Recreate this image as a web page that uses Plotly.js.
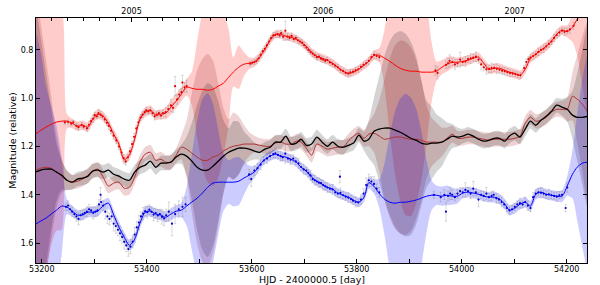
<!DOCTYPE html>
<html><head><meta charset="utf-8">
<script src="https://cdn.plot.ly/plotly-3.0.1.min.js"></script>
<style>html,body{margin:0;padding:0;background:#fff}#chart{width:600px;height:285px}</style>
</head><body><div id="chart"></div>
<script>
// Model grid (MJD) and model curves
const DAYS = [53188,53198,53208,53218,53228,53238,53248,53258,53268,53278,
53288,53297,53307,53317,53327,53337,53347,53357,53367,53377,
53387,53397,53407,53417,53427,53436,53446,53456,53466,53476,
53486,53496,53506,53516,53526,53536,53546,53556,53565,53575,
53585,53595,53605,53615,53625,53635,53645,53655,53665,53675,
53685,53694,53704,53714,53724,53734,53744,53754,53764,53774,
53784,53794,53804,53814,53823,53833,53843,53853,53863,53873,
53883,53893,53903,53913,53923,53933,53943,53952,53962,53972,
53982,53992,54002,54012,54022,54032,54042,54052,54062,54072,
54082,54091,54101,54111,54121,54131,54141,54151,54161,54171,
54181,54191,54201,54211,54220,54230,54240];

const RED_Y = [1.149,1.133,1.120,1.108,1.099,1.095,1.095,1.104,1.116,1.112,
1.120,1.087,1.066,1.075,1.104,1.149,1.190,1.255,1.235,1.170,
1.087,1.058,1.050,1.070,1.066,1.062,1.037,1.012,0.983,0.954,
0.959,0.963,0.963,0.967,0.963,0.950,0.938,0.913,0.892,0.872,
0.859,0.855,0.851,0.830,0.797,0.760,0.735,0.735,0.743,0.747,
0.756,0.768,0.785,0.810,0.826,0.834,0.843,0.855,0.872,0.888,
0.897,0.892,0.880,0.863,0.847,0.822,0.822,0.834,0.847,0.863,
0.876,0.884,0.888,0.888,0.892,0.892,0.892,0.888,0.872,0.859,
0.851,0.851,0.847,0.843,0.834,0.830,0.855,0.880,0.876,0.876,
0.884,0.892,0.897,0.905,0.880,0.834,0.818,0.801,0.785,0.764,
0.735,0.718,0.723,0.706,0.673,0.648,0.630];
const RED_SD = [0.8,0.7,0.6,0.5,0.45,0.45,0.03,0.02,0.02,0.02,
0.02,0.02,0.02,0.02,0.02,0.02,0.02,0.02,0.02,0.02,
0.02,0.02,0.02,0.02,0.02,0.025,0.03,0.03,0.03,0.035,
0.07,0.2,0.32,0.38,0.4,0.38,0.3,0.2,0.06,0.09,
0.05,0.025,0.02,0.018,0.018,0.018,0.018,0.018,0.018,0.018,
0.018,0.018,0.018,0.018,0.018,0.018,0.018,0.018,0.018,0.018,
0.018,0.018,0.018,0.018,0.018,0.02,0.03,0.12,0.3,0.45,
0.55,0.6,0.6,0.55,0.45,0.3,0.12,0.04,0.03,0.03,
0.025,0.02,0.02,0.02,0.02,0.02,0.02,0.02,0.02,0.02,
0.02,0.02,0.02,0.02,0.02,0.02,0.02,0.02,0.02,0.02,
0.02,0.02,0.025,0.06,0.15,0.3,0.45];

const BLUE_Y = [1.522,1.509,1.497,1.480,1.464,1.447,1.451,1.468,1.484,1.484,
1.472,1.472,1.468,1.445,1.435,1.484,1.534,1.576,1.609,1.584,
1.518,1.472,1.468,1.480,1.484,1.493,1.480,1.468,1.464,1.447,
1.430,1.414,1.393,1.369,1.352,1.348,1.348,1.348,1.348,1.344,
1.331,1.319,1.306,1.277,1.253,1.240,1.232,1.240,1.244,1.253,
1.265,1.286,1.302,1.327,1.344,1.356,1.369,1.377,1.393,1.402,
1.410,1.422,1.431,1.410,1.350,1.365,1.395,1.418,1.431,1.435,
1.431,1.431,1.427,1.422,1.414,1.406,1.402,1.402,1.406,1.402,
1.406,1.406,1.393,1.389,1.393,1.398,1.406,1.410,1.410,1.418,
1.439,1.464,1.456,1.439,1.431,1.447,1.398,1.389,1.398,1.402,
1.406,1.406,1.364,1.315,1.286,1.269,1.265];
const BLUE_SD = [0.8,0.7,0.55,0.45,0.35,0.2,0.03,0.022,0.022,0.022,
0.022,0.022,0.022,0.022,0.022,0.022,0.022,0.022,0.022,0.022,
0.022,0.022,0.022,0.022,0.022,0.022,0.025,0.025,0.03,0.08,
0.2,0.32,0.39,0.39,0.33,0.22,0.12,0.09,0.1,0.1,
0.07,0.04,0.025,0.02,0.02,0.02,0.02,0.02,0.02,0.02,
0.02,0.02,0.02,0.02,0.02,0.02,0.02,0.02,0.02,0.02,
0.02,0.02,0.02,0.02,0.025,0.03,0.06,0.15,0.28,0.38,
0.43,0.45,0.43,0.38,0.28,0.15,0.06,0.04,0.04,0.04,
0.035,0.03,0.022,0.022,0.022,0.022,0.022,0.022,0.022,0.022,
0.022,0.022,0.022,0.022,0.022,0.022,0.022,0.022,0.022,0.022,
0.022,0.025,0.04,0.1,0.22,0.35,0.45];

const BLACK_Y = [1.306,1.298,1.294,1.294,1.306,1.319,1.340,1.348,1.335,1.331,
1.323,1.302,1.298,1.306,1.298,1.315,1.323,1.335,1.340,1.306,
1.286,1.277,1.261,1.286,1.269,1.269,1.265,1.244,1.232,1.240,
1.261,1.286,1.298,1.298,1.282,1.261,1.240,1.224,1.215,1.207,
1.207,1.211,1.219,1.224,1.211,1.203,1.182,1.182,1.157,1.190,
1.186,1.170,1.195,1.190,1.161,1.182,1.199,1.182,1.199,1.203,
1.195,1.186,1.153,1.178,1.170,1.137,1.128,1.124,1.124,1.132,
1.141,1.153,1.166,1.174,1.186,1.190,1.186,1.186,1.182,1.170,
1.157,1.161,1.157,1.149,1.157,1.170,1.178,1.174,1.166,1.166,
1.178,1.157,1.145,1.161,1.128,1.095,1.112,1.091,1.075,1.054,
1.029,1.037,1.046,1.070,1.079,1.079,1.075];
const BLACK_SD = [0.7,0.55,0.4,0.25,0.12,0.06,0.04,0.03,0.03,0.03,
0.03,0.03,0.03,0.03,0.03,0.03,0.03,0.03,0.03,0.03,
0.03,0.03,0.03,0.03,0.03,0.03,0.03,0.03,0.04,0.08,
0.16,0.26,0.33,0.36,0.33,0.25,0.15,0.1,0.12,0.11,
0.07,0.05,0.035,0.03,0.03,0.03,0.03,0.03,0.03,0.03,
0.03,0.03,0.03,0.03,0.03,0.03,0.03,0.03,0.03,0.03,
0.03,0.03,0.03,0.04,0.08,0.14,0.22,0.3,0.36,0.4,
0.42,0.42,0.4,0.35,0.26,0.18,0.15,0.12,0.1,0.07,
0.05,0.04,0.03,0.03,0.03,0.03,0.03,0.03,0.03,0.03,
0.03,0.03,0.03,0.03,0.03,0.03,0.03,0.03,0.03,0.03,
0.03,0.035,0.05,0.1,0.18,0.28,0.38];

const DRED_Y = [1.298,1.290,1.286,1.290,1.306,1.323,1.340,1.348,1.344,1.335,
1.319,1.302,1.294,1.327,1.364,1.352,1.348,1.373,1.369,1.327,
1.265,1.232,1.224,1.257,1.253,1.265,1.265,1.236,1.203,1.211,
1.228,1.244,1.257,1.257,1.244,1.236,1.219,1.207,1.199,1.195,
1.190,1.190,1.190,1.195,1.199,1.199,1.186,1.182,1.190,1.190,
1.178,1.182,1.207,1.236,1.190,1.199,1.211,1.207,1.203,1.203,
1.178,1.157,1.145,1.166,1.149,1.145,1.157,1.170,1.166,1.161,
1.161,1.166,1.170,1.170,1.174,1.182,1.182,1.182,1.182,1.166,
1.149,1.166,1.166,1.161,1.161,1.166,1.170,1.174,1.170,1.170,
1.170,1.170,1.166,1.157,1.104,1.079,1.095,1.091,1.079,1.058,
1.046,1.046,1.046,0.992,1.004,1.025,1.058];
const DRED_SD = [0.75,0.6,0.45,0.3,0.15,0.07,0.04,0.03,0.03,0.03,
0.03,0.03,0.03,0.03,0.03,0.03,0.03,0.03,0.03,0.03,
0.03,0.03,0.03,0.03,0.03,0.03,0.03,0.03,0.05,0.12,
0.25,0.36,0.42,0.44,0.4,0.3,0.18,0.12,0.14,0.12,
0.08,0.05,0.035,0.03,0.03,0.03,0.03,0.03,0.03,0.03,
0.03,0.03,0.03,0.03,0.03,0.03,0.03,0.03,0.03,0.03,
0.03,0.03,0.03,0.035,0.05,0.08,0.15,0.25,0.33,0.38,
0.4,0.4,0.38,0.33,0.25,0.15,0.1,0.08,0.06,0.045,
0.035,0.03,0.03,0.03,0.03,0.03,0.03,0.03,0.03,0.03,
0.03,0.03,0.03,0.03,0.03,0.03,0.03,0.03,0.03,0.03,
0.03,0.035,0.05,0.1,0.18,0.28,0.38];

// Observed red light curve: time, magnitude, error
const RED_T = [53244,53250,53256,53260,53266,53270,53276,53280,53286,53290,53294,53298,53301,53305,53308,53312,53316,53320,53324,53328,53332,53337,53342,53347,53352,53356,53360,53364,53368,53372,53376,53380,53384,53388,53392,53396,53399,53403,53407,53411,53415,53419,53423,53427,53431,53436,53441,53446,53450,53454,53458,53462,53466,53468,53472,53476,
53597,53601,53605,53609,53613,53617,53621,53625,53629,53633,53637,53641,53645,53649,53653,53656,53660,53664,53668,53672,53676,53680,53684,53688,53692,53696,53700,53704,53708,53712,53716,53720,53724,53728,53732,53736,53740,53744,53749,53754,53759,53764,53769,53774,53779,53784,53788,53793,53798,53803,53808,53813,53818,53823,53828,53833,53838,53843,
53950,53954,53970,53974,53977,53982,53987,53992,53997,54002,54007,54012,54017,54022,54027,54032,54037,54042,54047,54052,54057,54062,54067,54072,54077,54082,54087,54092,54097,54102,54107,54112,54119,54123,54127,54131,54136,54141,54146,54151,54156,54161,54166,54171,54176,54181,54186,54191,54196,54201,54206,54213];
const RED_M = [1.100,1.098,1.105,1.100,1.115,1.120,1.110,1.118,1.125,1.110,1.095,1.085,1.070,1.075,1.062,1.068,1.075,1.088,1.102,1.115,1.135,1.155,1.175,1.200,1.225,1.248,1.262,1.245,1.220,1.190,1.160,1.125,1.100,1.080,1.068,1.058,1.050,1.055,1.050,1.062,1.075,1.068,1.062,1.072,1.062,1.058,1.045,1.030,1.040,0.950,1.005,0.985,0.975,0.935,0.955,0.950,
0.857,0.853,0.850,0.845,0.835,0.820,0.805,0.795,0.780,0.765,0.750,0.740,0.738,0.735,0.740,0.730,0.745,0.720,0.745,0.750,0.742,0.755,0.750,0.760,0.765,0.770,0.780,0.790,0.800,0.808,0.815,0.822,0.830,0.828,0.836,0.840,0.845,0.842,0.852,0.858,0.865,0.872,0.882,0.888,0.895,0.898,0.893,0.890,0.884,0.880,0.870,0.862,0.855,0.845,0.830,0.820,0.825,0.830,
0.885,0.895,0.862,0.855,0.845,0.850,0.860,0.855,0.840,0.850,0.848,0.838,0.835,0.832,0.828,0.840,0.860,0.872,0.880,0.878,0.875,0.874,0.878,0.882,0.886,0.888,0.892,0.895,0.898,0.900,0.903,0.905,0.875,0.850,0.838,0.832,0.825,0.818,0.808,0.800,0.795,0.785,0.775,0.765,0.750,0.738,0.728,0.720,0.725,0.722,0.715,0.700];
const RED_E = [0.008,0.008,0.01,0.008,0.01,0.012,0.01,0.01,0.012,0.015,0.012,0.015,0.012,0.01,0.015,0.012,0.01,0.012,0.012,0.015,0.012,0.015,0.012,0.015,0.012,0.015,0.015,0.012,0.015,0.012,0.015,0.012,0.015,0.012,0.012,0.01,0.012,0.01,0.012,0.01,0.015,0.012,0.012,0.015,0.012,0.02,0.015,0.025,0.02,0.04,0.02,0.02,0.015,0.03,0.02,0.025,
0.01,0.008,0.01,0.01,0.012,0.012,0.01,0.012,0.01,0.012,0.01,0.012,0.01,0.012,0.01,0.012,0.015,0.04,0.012,0.01,0.012,0.012,0.01,0.012,0.01,0.012,0.012,0.01,0.012,0.01,0.012,0.01,0.012,0.01,0.012,0.012,0.01,0.012,0.012,0.012,0.01,0.012,0.012,0.01,0.012,0.012,0.012,0.01,0.012,0.012,0.01,0.012,0.012,0.015,0.012,0.015,0.012,0.015,
0.02,0.025,0.015,0.02,0.025,0.015,0.02,0.015,0.03,0.015,0.02,0.015,0.02,0.015,0.02,0.015,0.02,0.015,0.02,0.015,0.02,0.015,0.02,0.015,0.015,0.015,0.015,0.015,0.012,0.012,0.012,0.012,0.012,0.012,0.01,0.012,0.012,0.012,0.015,0.012,0.015,0.012,0.015,0.012,0.015,0.012,0.015,0.012,0.015,0.012,0.015,0.015];

// Observed blue light curve
const BLUE_T = [53246,53250,53254,53258,53262,53266,53270,53274,53278,53282,53286,53290,53294,53298,53302,53306,53309,53312,53313,53317,53321,53325,53329,53333,53337,53341,53345,53349,53353,53357,53361,53365,53369,53373,53377,53381,53385,53389,53393,53397,53401,53405,53409,53413,53417,53421,53425,53429,53433,53437,53442,53448,53454,53461,53468,53474,
53595,53599,53605,53611,53617,53623,53629,53635,53641,53645,53650,53655,53659,53664,53669,53674,53679,53684,53689,53694,53699,53704,53708,53712,53716,53720,53724,53728,53732,53736,53740,53744,53749,53754,53759,53764,53768,53769,53774,53779,53784,53789,53793,53798,53803,53808,53813,53818,53823,53828,53833,53838,53843,
53947,53960,53967,53970,53974,53978,53982,53987,53992,53997,54002,54007,54012,54017,54022,54027,54032,54037,54042,54047,54052,54057,54061,54066,54071,54076,54081,54086,54091,54096,54101,54106,54111,54116,54121,54126,54131,54136,54141,54146,54151,54156,54161,54166,54171,54176,54181,54186,54191,54198,54201];
const BLUE_M = [1.450,1.445,1.460,1.470,1.480,1.490,1.500,1.485,1.480,1.475,1.470,1.460,1.465,1.475,1.470,1.465,1.440,1.400,1.430,1.445,1.470,1.490,1.500,1.490,1.520,1.530,1.545,1.560,1.575,1.595,1.610,1.625,1.615,1.595,1.565,1.535,1.515,1.490,1.478,1.468,1.472,1.462,1.470,1.482,1.476,1.486,1.480,1.492,1.498,1.485,1.470,1.520,1.480,1.460,1.450,1.440,
1.315,1.335,1.300,1.290,1.275,1.258,1.250,1.240,1.232,1.228,1.235,1.240,1.245,1.230,1.250,1.255,1.250,1.262,1.270,1.285,1.295,1.300,1.310,1.320,1.335,1.340,1.345,1.350,1.352,1.360,1.365,1.370,1.375,1.378,1.390,1.395,1.325,1.392,1.402,1.408,1.412,1.418,1.425,1.430,1.432,1.420,1.395,1.360,1.340,1.345,1.355,1.375,1.390,
1.400,1.410,1.400,1.470,1.405,1.395,1.400,1.410,1.395,1.385,1.390,1.380,1.385,1.395,1.375,1.390,1.420,1.400,1.405,1.395,1.410,1.405,1.400,1.415,1.420,1.430,1.440,1.455,1.465,1.460,1.450,1.440,1.435,1.440,1.430,1.445,1.455,1.410,1.395,1.390,1.392,1.395,1.400,1.398,1.402,1.405,1.408,1.402,1.400,1.455,1.370];
const BLUE_E = [0.015,0.02,0.015,0.02,0.015,0.02,0.025,0.02,0.02,0.015,0.02,0.02,0.015,0.025,0.02,0.02,0.02,0.03,0.025,0.02,0.03,0.03,0.025,0.02,0.03,0.03,0.025,0.03,0.025,0.03,0.025,0.03,0.03,0.025,0.03,0.025,0.03,0.02,0.025,0.02,0.025,0.02,0.02,0.025,0.02,0.025,0.02,0.03,0.03,0.025,0.04,0.05,0.04,0.035,0.04,0.03,
0.02,0.03,0.02,0.02,0.02,0.015,0.02,0.015,0.015,0.02,0.015,0.02,0.015,0.04,0.015,0.02,0.015,0.015,0.02,0.015,0.02,0.015,0.015,0.02,0.015,0.02,0.015,0.02,0.015,0.02,0.015,0.02,0.015,0.02,0.015,0.015,0.025,0.02,0.015,0.015,0.02,0.015,0.015,0.02,0.015,0.02,0.02,0.03,0.025,0.02,0.03,0.02,0.02,
0.015,0.02,0.02,0.04,0.02,0.025,0.02,0.015,0.02,0.015,0.02,0.03,0.015,0.02,0.03,0.015,0.03,0.015,0.02,0.025,0.015,0.02,0.015,0.02,0.015,0.02,0.015,0.015,0.015,0.015,0.015,0.015,0.02,0.015,0.02,0.02,0.015,0.02,0.015,0.015,0.02,0.015,0.015,0.02,0.015,0.015,0.02,0.015,0.015,0.015,0.02];

// Top axis: calendar years (MJD of 1 January) and month starts
const YEAR_MJD = [53371, 53736, 54101];
const YEAR_LABELS = ['2005', '2006', '2007'];
const MONTH_MJD = [53218,53249,53279,53310,53340,53371,53402,53430,53461,53491,53522,53552,53583,53614,53644,53675,53705,
53736,53767,53795,53826,53856,53887,53917,53948,53979,54009,54040,54070,54101,54132,54160,54191,54221];

const BOTTOM_TICKS = [53200,53400,53600,53800,54000,54200];
const Y_TICKS = [0.8,1.0,1.2,1.4,1.6];

function band(center, sd, color) {
  const up = center.map((v,i)=>v - sd[i]);
  const lo = center.map((v,i)=>v + sd[i]);
  return {
    x: DAYS.concat(DAYS.slice().reverse()),
    y: up.concat(lo.slice().reverse()),
    type: 'scatter', mode: 'lines', fill: 'toself', fillcolor: color,
    line: {width: 0, shape: 'spline', smoothing: 0.7}, hoverinfo: 'skip', showlegend: false
  };
}
function curve(y, color, w) {
  return {x: DAYS, y: y, type: 'scatter', mode: 'lines',
    line: {color: color, width: w, shape: 'spline', smoothing: 0.8}, hoverinfo: 'skip', showlegend: false};
}
function obs(t, m, e, color) {
  return {x: t, y: m, type: 'scatter', mode: 'markers',
    marker: {color: color, size: 2.2},
    error_y: {type: 'data', array: e, visible: true, color: 'rgba(110,110,110,0.5)', thickness: 0.5, width: 1.2},
    hoverinfo: 'skip', showlegend: false};
}

const traces = [
  band(RED_Y, RED_SD, 'rgba(255,0,0,0.2)'),
  band(DRED_Y, DRED_SD, 'rgba(165,35,35,0.2)'),
  band(BLACK_Y, BLACK_SD, 'rgba(0,0,0,0.17)'),
  band(BLUE_Y, BLUE_SD, 'rgba(0,0,255,0.2)'),
  obs(RED_T, RED_M, RED_E, '#e00000'),
  obs(BLUE_T, BLUE_M, BLUE_E, '#0000d0'),
  curve(RED_Y, '#ff0000', 1),
  curve(BLUE_Y, '#0000ff', 1),
  curve(DRED_Y, '#b03030', 1),
  curve(BLACK_Y, '#000000', 1.3),
  {x: YEAR_MJD, y: YEAR_MJD.map(()=>null), xaxis: 'x2', type: 'scatter', mode: 'markers',
   marker: {opacity: 0}, hoverinfo: 'skip', showlegend: false}
];

const XR = [53189, 54238.7];
const tickFont = {family: 'DejaVu Sans', size: 8, color: '#000'};
const layout = {
  width: 600, height: 285,
  margin: {l: 36, r: 13, t: 18, b: 22},
  paper_bgcolor: '#fff', plot_bgcolor: '#fff',
  font: {family: 'DejaVu Sans', color: '#000'},
  showlegend: false,
  xaxis: {
    range: XR, showgrid: false, zeroline: false, showline: true, linecolor: '#000', linewidth: 1,
    mirror: false, ticks: 'inside', ticklen: 4, tickcolor: '#000', ticklabelstandoff: -2,
    tickmode: 'array', tickvals: BOTTOM_TICKS, ticktext: BOTTOM_TICKS.map(String),
    minor: {tickmode: 'linear', tick0: 53200, dtick: 100, ticks: 'inside', ticklen: 4, tickcolor: '#000', showgrid: false},
    tickfont: tickFont, automargin: false
  },
  xaxis2: {
    range: XR, overlaying: 'x', side: 'top', anchor: 'y', showgrid: false, zeroline: false,
    showline: true, linecolor: '#000', linewidth: 1, ticks: 'inside', ticklen: 4, tickcolor: '#000',
    tickmode: 'array', tickvals: YEAR_MJD, ticktext: YEAR_LABELS, tickfont: tickFont,
    minor: {tickmode: 'array', tickvals: MONTH_MJD, ticks: 'inside', ticklen: 3, tickcolor: '#000', showgrid: false},
    automargin: false
  },
  yaxis: {
    range: [1.6828, 0.6676], showgrid: false, zeroline: false, showline: true, linecolor: '#000', linewidth: 1,
    mirror: 'ticks', ticks: 'inside', ticklen: 4, tickcolor: '#000',
    tickmode: 'array', tickvals: Y_TICKS, ticktext: Y_TICKS.map(v=>v.toFixed(1)),
    tickfont: tickFont, automargin: false,
    title: {text: 'Magnitude (relative)', font: {family: 'DejaVu Sans', size: 9.5, color: '#000'}, standoff: 2}
  },
  annotations: [{
    text: 'HJD - 2400000.5 [day]', xref: 'paper', yref: 'paper', x: 0.5, y: -22/245,
    xanchor: 'center', yanchor: 'bottom', showarrow: false, borderpad: 0, yshift: -1,
    font: {family: 'DejaVu Sans', size: 9.5, color: '#000'}
  }]
};
Plotly.newPlot('chart', traces, layout, {staticPlot: true, displayModeBar: false});
</script></body></html>
